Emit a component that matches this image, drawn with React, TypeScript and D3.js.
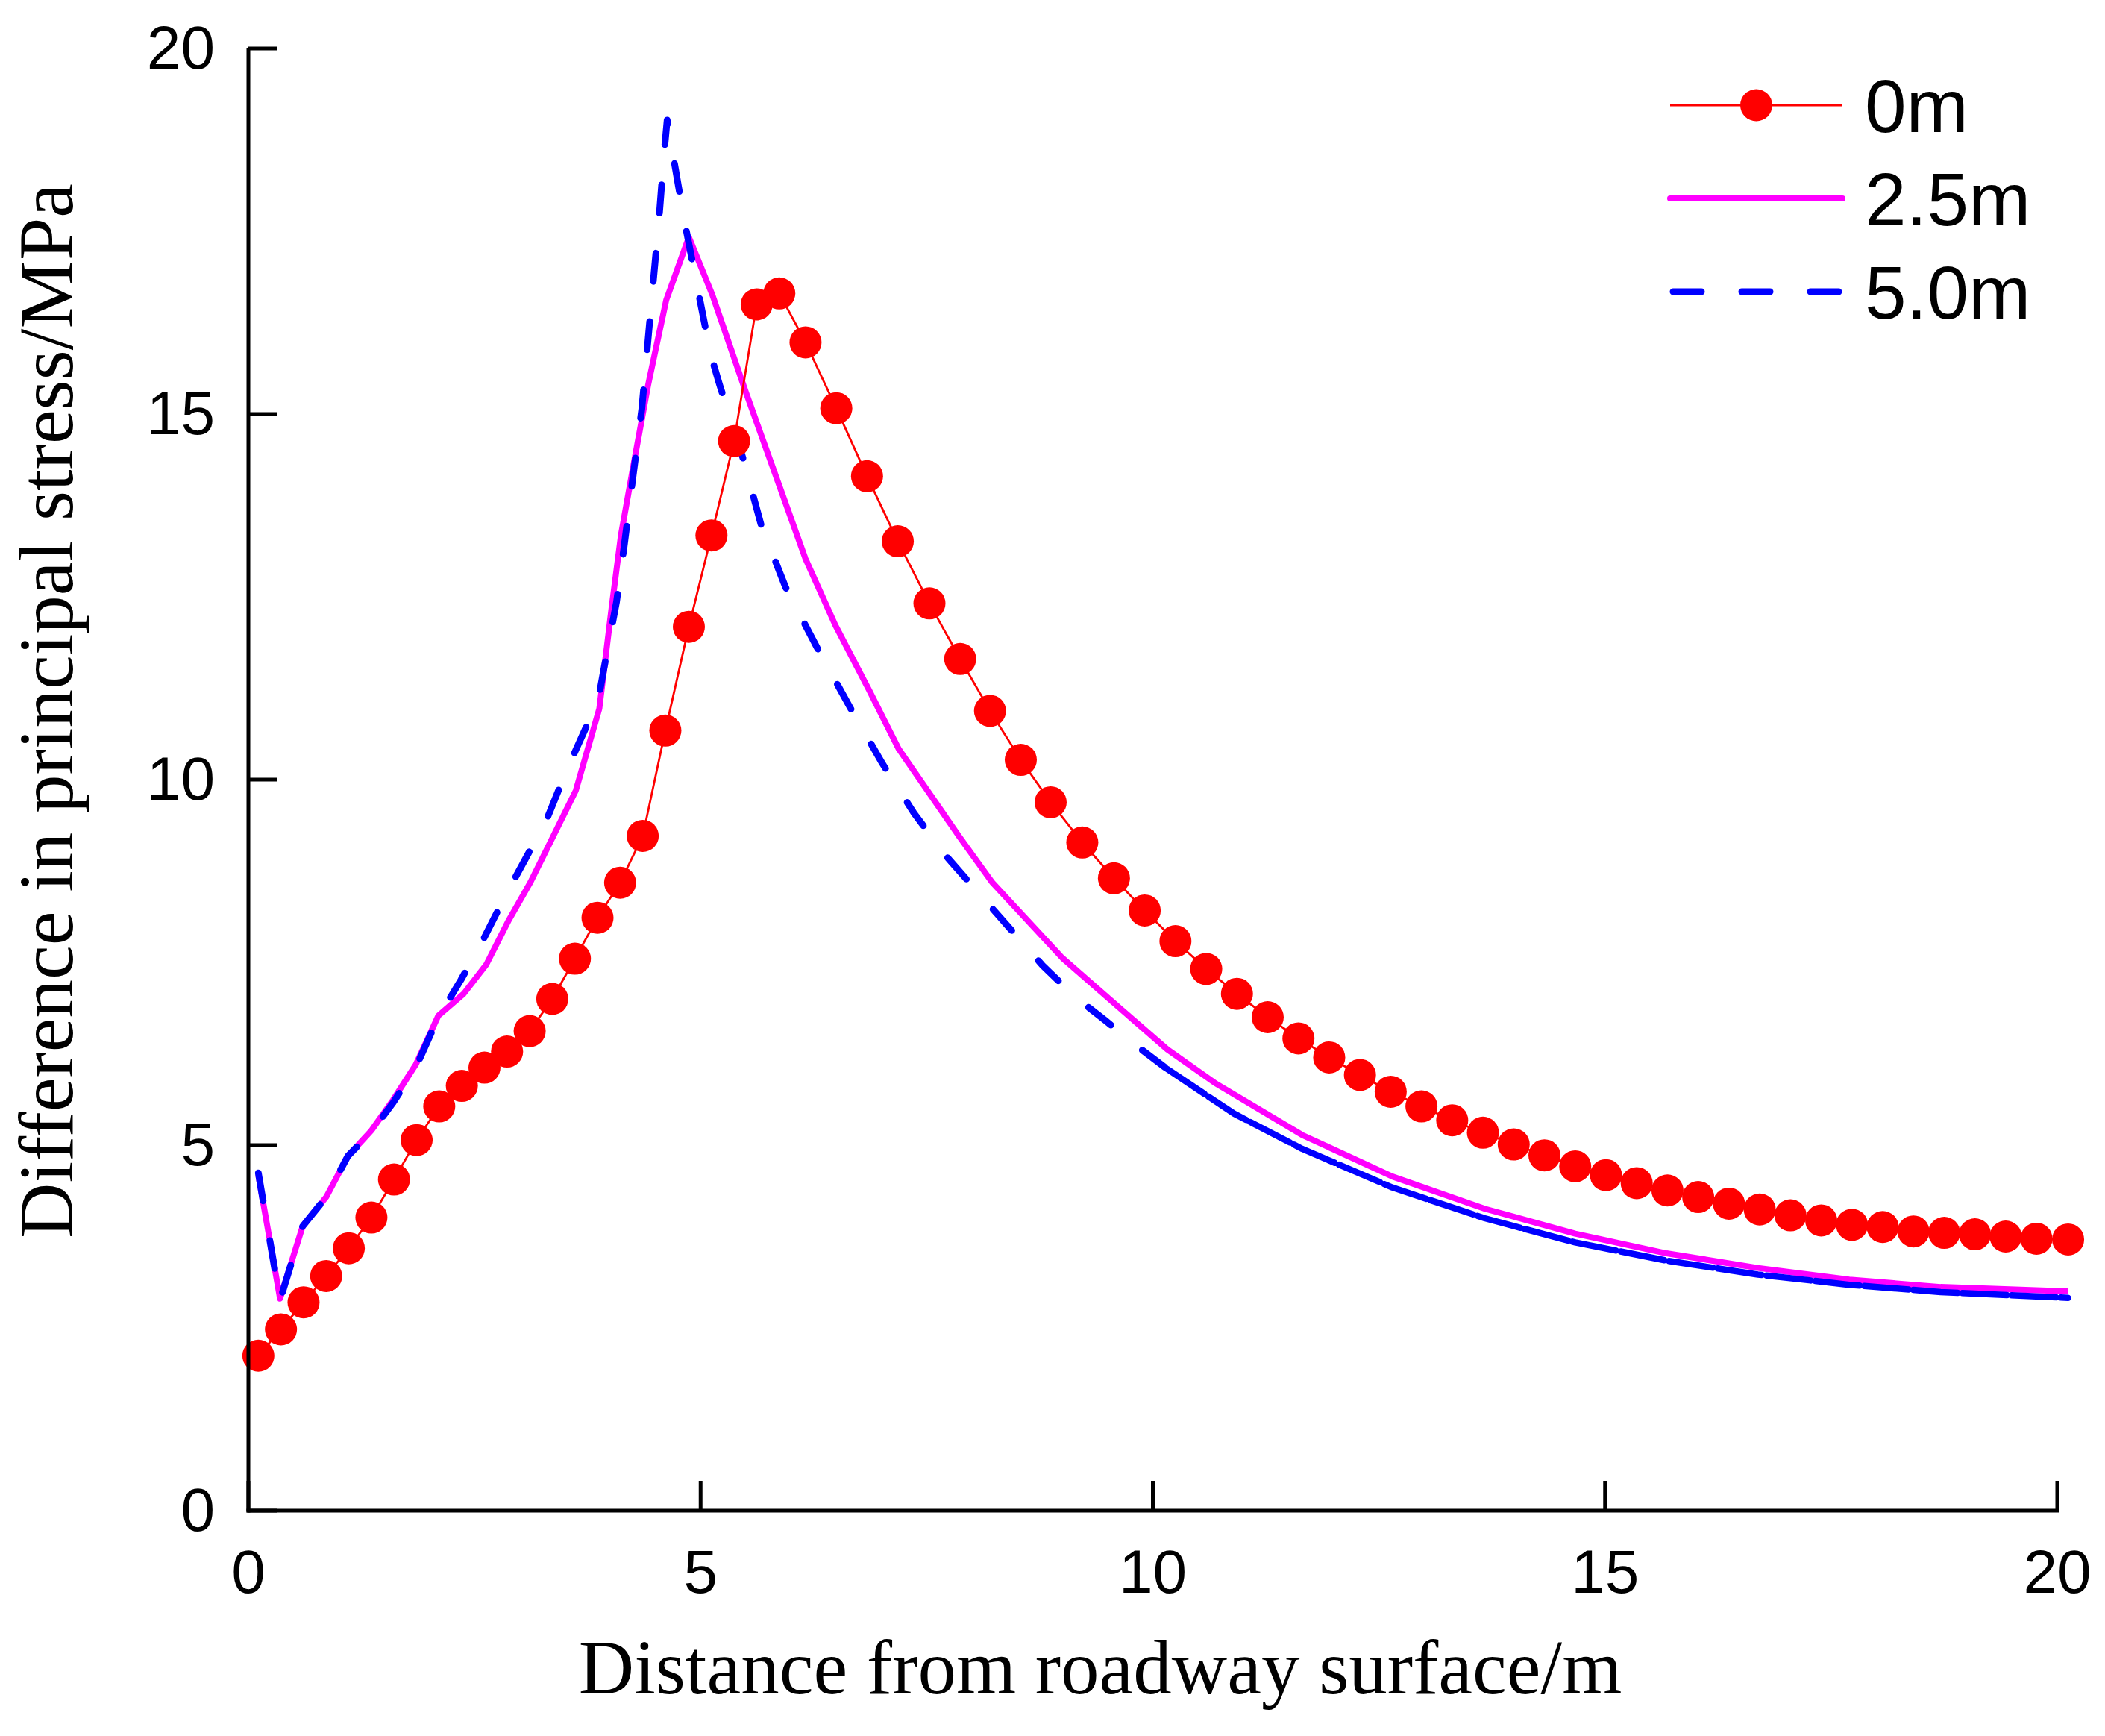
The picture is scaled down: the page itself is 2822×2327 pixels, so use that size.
import React from "react";
import * as d3 from "d3";

// ---- data ----
const seriesNames = ["0m", "2.5m", "5.0m"];

const redX = [
  0.11, 0.36, 0.61, 0.86, 1.11, 1.36, 1.61, 1.86, 2.11, 2.36, 2.61, 2.86, 3.11, 3.36, 3.61, 3.86,
  4.11, 4.36, 4.61, 4.87, 5.12, 5.37, 5.62, 5.87, 6.16, 6.5, 6.84, 7.18, 7.53, 7.87, 8.2, 8.54,
  8.87, 9.22, 9.57, 9.91, 10.25, 10.59, 10.93, 11.27, 11.61, 11.95, 12.29, 12.63, 12.97, 13.31,
  13.65, 13.99, 14.33, 14.67, 15.01, 15.35, 15.69, 16.03, 16.37, 16.71, 17.05, 17.39, 17.73,
  18.07, 18.41, 18.75, 19.09, 19.43, 19.77, 20.12,
];
const redY = [
  2.12, 2.48, 2.85, 3.21, 3.59, 4.01, 4.53, 5.07, 5.53, 5.81, 6.06, 6.28, 6.56, 7.0, 7.55, 8.11,
  8.59, 9.23, 10.67, 12.09, 13.34, 14.63, 16.5, 16.65, 15.98, 15.08, 14.15, 13.26, 12.41, 11.65,
  10.94, 10.27, 9.69, 9.14, 8.65, 8.21, 7.79, 7.41, 7.07, 6.75, 6.46, 6.2, 5.96, 5.73, 5.53, 5.34,
  5.17, 5.01, 4.86, 4.71, 4.59, 4.48, 4.38, 4.29, 4.2, 4.12, 4.04, 3.97, 3.91, 3.88, 3.82, 3.8,
  3.78, 3.75, 3.72, 3.71,
];

const magentaX = [
  0.11, 0.35, 0.6, 0.86, 1.1, 1.36, 1.6, 1.85, 2.1, 2.38, 2.63, 2.88, 3.12, 3.62, 3.88, 4.02, 4.12,
  4.25, 4.42, 4.62, 4.87, 5.13, 5.5, 6.16, 6.49, 6.86, 7.19, 7.86, 8.22, 9.0, 9.62, 10.16, 10.7,
  11.65, 12.65, 13.67, 14.67, 15.68, 16.69, 17.7, 18.71, 20.12,
];
const magentaY = [
  4.59, 2.9, 3.89, 4.29, 4.85, 5.2, 5.62, 6.1, 6.77, 7.07, 7.47, 8.08, 8.6, 9.85, 10.97, 12.39,
  13.35, 14.25, 15.4, 16.56, 17.42, 16.63, 15.3, 13.02, 12.11, 11.23, 10.42, 9.22, 8.6, 7.56, 6.89,
  6.31, 5.84, 5.14, 4.57, 4.13, 3.79, 3.52, 3.32, 3.16, 3.06, 3.0,
];

const blueX = [
  0.11, 0.35, 0.6, 0.86, 1.1, 1.36, 1.6, 1.85, 2.1, 2.35, 2.6, 2.85, 3.1, 3.3, 3.52, 3.76, 3.87,
  3.93, 4.07, 4.15, 4.25, 4.35, 4.47, 4.54, 4.6, 4.63, 4.69, 4.82, 4.94, 5.11, 5.21, 5.47, 5.67,
  5.94, 6.29, 6.66, 7.01, 7.36, 7.71, 8.08, 8.43, 8.78, 9.13, 9.48, 9.84, 10.16, 10.9, 11.65,
  12.65, 13.67, 14.67, 15.68, 16.69, 17.7, 18.71, 20.12,
];
const blueY = [
  4.62, 2.88, 3.89, 4.29, 4.85, 5.18, 5.58, 6.06, 6.75, 7.26, 7.82, 8.43, 9.0, 9.46, 10.13, 10.79,
  11.1, 11.51, 12.43, 13.15, 14.12, 15.07, 16.72, 17.67, 18.62, 19.02, 18.58, 17.65, 16.89, 15.82,
  15.4, 14.39, 13.48, 12.63, 11.8, 10.97, 10.22, 9.54, 8.96, 8.44, 7.95, 7.46, 7.04, 6.7, 6.34,
  6.04, 5.43, 4.95, 4.42, 4.0, 3.67, 3.42, 3.23, 3.09, 2.99, 2.91,
];
// beyond this distance the dashed 5.0m curve renders as a continuous stroke in the reference
const blueSolidFrom = 10.16;

const xTicks = [0, 5, 10, 15, 20];
const yTicks = [0, 5, 10, 15, 20];
const xTitle = "Distance from roadway surface/m";
const yTitle = "Difference in principal stress/MPa";

// ---- layout ----
const W = 2822;
const H = 2327;
const L = 333;
const R = 2758;
const T = 65;
const B = 2025;

export default function App() {
  const x = d3.scaleLinear().domain([0, 20]).range([L, R]);
  const y = d3.scaleLinear().domain([0, 20]).range([B, T]);
  const line = d3
    .line<[number, number]>()
    .x((d) => x(d[0]))
    .y((d) => y(d[1]));

  const red = redX.map((v, i) => [v, redY[i]] as [number, number]);
  const mag = magentaX.map((v, i) => [v, magentaY[i]] as [number, number]);
  const blu = blueX.map((v, i) => [v, blueY[i]] as [number, number]);
  const bluDashed = blu.filter((d) => d[0] <= blueSolidFrom);
  const bluSolid = blu.filter((d) => d[0] >= blueSolidFrom);

  const sans = "'Liberation Sans', Arial, sans-serif";
  const serif = "'Liberation Serif', 'Times New Roman', serif";

  const legY = [141, 266, 391];
  const legX1 = 2239;
  const legX2 = 2470;

  return (
    <svg
      width={W}
      height={H}
      viewBox={`0 0 ${W} ${H}`}
      style={{ position: "absolute", left: 0, top: 0, background: "#fff" }}
    >
      <rect x={0} y={0} width={W} height={H} fill="#fff" />

      {/* series */}
      <path d={line(mag) || ""} fill="none" stroke="#ff00ff" strokeWidth={8} strokeLinejoin="round" />
      <path
        d={line(bluDashed) || ""}
        fill="none"
        stroke="#0000ff"
        strokeWidth={9}
        strokeDasharray="38 54"
        strokeLinecap="round"
        strokeLinejoin="round"
      />
      <path
        d={line(bluSolid) || ""}
        fill="none"
        stroke="#0000ff"
        strokeWidth={8.5}
        strokeDasharray="60 6"
        strokeLinecap="round"
        strokeLinejoin="round"
      />
      <path d={line(red) || ""} fill="none" stroke="#ff0000" strokeWidth={2.8} />
      {red.map((d, i) => (
        <circle key={i} cx={x(d[0])} cy={y(d[1])} r={21.5} fill="#ff0000" />
      ))}

      {/* axes */}
      <line x1={L} y1={T} x2={L} y2={B + 2.5} stroke="#000" strokeWidth={5} />
      <line x1={L - 2.5} y1={B} x2={R + 2.5} y2={B} stroke="#000" strokeWidth={5} />
      {yTicks.map((t) => (
        <g key={"y" + t}>
          <line x1={L} x2={L + 39} y1={y(t)} y2={y(t)} stroke="#000" strokeWidth={5} />
          <text
            x={288}
            y={y(t)}
            dy="0.33em"
            textAnchor="end"
            fontFamily={sans}
            fontSize={82}
            fill="#000"
          >
            {t}
          </text>
        </g>
      ))}
      {xTicks.map((t) => (
        <g key={"x" + t}>
          <line x1={x(t)} x2={x(t)} y1={B} y2={B - 40} stroke="#000" strokeWidth={5} />
          <text x={x(t)} y={2135} textAnchor="middle" fontFamily={sans} fontSize={82} fill="#000">
            {t}
          </text>
        </g>
      ))}

      {/* titles */}
      <text x={1475} y={2270} textAnchor="middle" fontFamily={serif} fontSize={103} fill="#000">
        {xTitle}
      </text>
      <text
        transform={`translate(97,953) rotate(-90)`}
        textAnchor="middle"
        fontFamily={serif}
        fontSize={103}
        fill="#000"
      >
        {yTitle}
      </text>

      {/* legend */}
      <line x1={legX1} x2={legX2} y1={legY[0]} y2={legY[0]} stroke="#ff0000" strokeWidth={2.8} />
      <circle cx={(legX1 + legX2) / 2} cy={legY[0]} r={21.5} fill="#ff0000" />
      <line
        x1={legX1}
        x2={legX2}
        y1={legY[1]}
        y2={legY[1]}
        stroke="#ff00ff"
        strokeWidth={8}
        strokeLinecap="round"
      />
      <line
        x1={legX1 + 4}
        x2={legX2}
        y1={legY[2]}
        y2={legY[2]}
        stroke="#0000ff"
        strokeWidth={9}
        strokeDasharray="38 54"
        strokeLinecap="round"
      />
      {seriesNames.map((n, i) => (
        <text
          key={n}
          x={2500}
          y={legY[i] + 36}
          fontFamily={sans}
          fontSize={100}
          fill="#000"
        >
          {n}
        </text>
      ))}
    </svg>
  );
}
